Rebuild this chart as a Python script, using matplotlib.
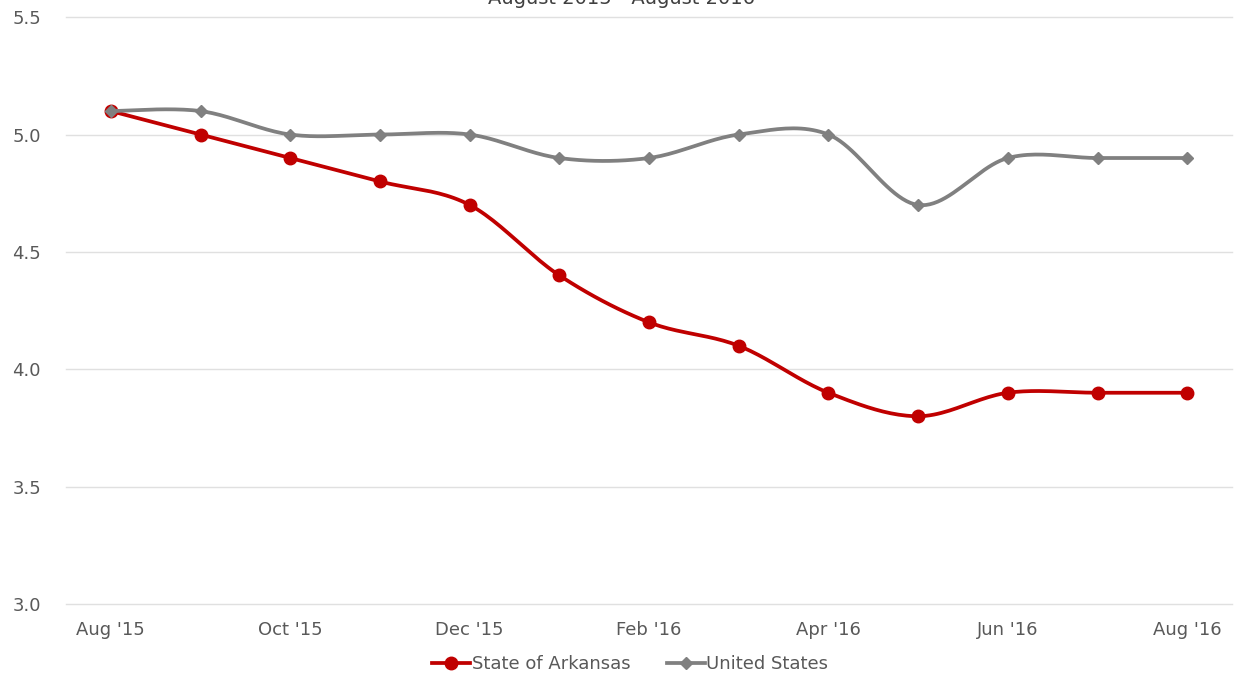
import matplotlib.pyplot as plt
import numpy as np
from matplotlib.lines import Line2D

months = ["Aug '15", "Sep '15", "Oct '15", "Nov '15", "Dec '15", "Jan '16", "Feb '16",
          "Mar '16", "Apr '16", "May '16", "Jun '16", "Jul '16", "Aug '16"]
arkansas = [5.1, 5.0, 4.9, 4.8, 4.7, 4.4, 4.2, 4.1, 3.9, 3.8, 3.9, 3.9, 3.9]
united_states = [5.1, 5.1, 5.0, 5.0, 5.0, 4.9, 4.9, 5.0, 5.0, 4.7, 4.9, 4.9, 4.9]

RED = "#C00000"
GRAY = "#808080"
TXT = "#595959"


def smooth(y, steps=24):
    # Excel-style smoothed line (Catmull-Rom Bezier between the points)
    y = np.asarray(y, dtype=float)
    x = np.arange(len(y), dtype=float)
    px = np.concatenate([[x[0]], x, [x[-1]]])
    py = np.concatenate([[y[0]], y, [y[-1]]])
    xs, ys = [], []
    t = np.linspace(0, 1, steps)
    for i in range(1, len(px) - 2):
        p0, p1, p2, p3 = (np.array([px[j], py[j]]) for j in range(i - 1, i + 3))
        c1 = p1 + (p2 - p0) / 6
        c2 = p2 - (p3 - p1) / 6
        pts = ((1 - t) ** 3)[:, None] * p1 + (3 * (1 - t) ** 2 * t)[:, None] * c1 \
            + (3 * (1 - t) * t ** 2)[:, None] * c2 + (t ** 3)[:, None] * p2
        xs.extend(pts[:, 0])
        ys.extend(pts[:, 1])
    return xs, ys


fig = plt.figure(figsize=(12.36, 6.73), dpi=100)
ax = fig.add_axes([0.0534, 0.1025, 0.9434, 0.872])

idx = np.arange(len(months))
sx, sy = smooth(arkansas)
ax.plot(sx, sy, color=RED, lw=2.7, zorder=3)
ax.plot(idx, arkansas, "o", color=RED, ms=9, zorder=4)
sx, sy = smooth(united_states)
ax.plot(sx, sy, color=GRAY, lw=2.7, zorder=5)
ax.plot(idx, united_states, "D", color=GRAY, ms=6.3, zorder=6)

ax.set_xlim(-0.5, 12.5)
ax.set_ylim(3.0, 5.5)
ax.set_yticks([3.0, 3.5, 4.0, 4.5, 5.0, 5.5])
ax.set_yticklabels(["3.0", "3.5", "4.0", "4.5", "5.0", "5.5"])
ax.set_xticks(idx[::2])
ax.set_xticklabels(months[::2])
ax.tick_params(length=0, labelsize=13, colors=TXT)
ax.tick_params(axis="x", pad=12)
ax.tick_params(axis="y", pad=18)
ax.grid(axis="y", color="#E0E0E0", lw=1)
for g in ax.yaxis.get_gridlines():
    g.set_clip_on(False)
ax.set_axisbelow(True)
for s in ax.spines.values():
    s.set_visible(False)

fig.text(0.503, 1 - 4 / 673, "August 2015 - August 2016", ha="center", va="baseline",
         fontsize=14, color="#404040")

handles = [Line2D([], [], color=RED, lw=2.7, marker="o", ms=9),
           Line2D([], [], color=GRAY, lw=2.7, marker="D", ms=6.3)]
fig.legend(handles, ["State of Arkansas", "United States"], loc="center",
           bbox_to_anchor=(0.51, 1 - 664 / 673), ncol=2, frameon=False,
           fontsize=13, labelcolor=TXT, handlelength=2.1, handletextpad=0.1,
           columnspacing=2.0)

fig.savefig("out.png", dpi=100)
